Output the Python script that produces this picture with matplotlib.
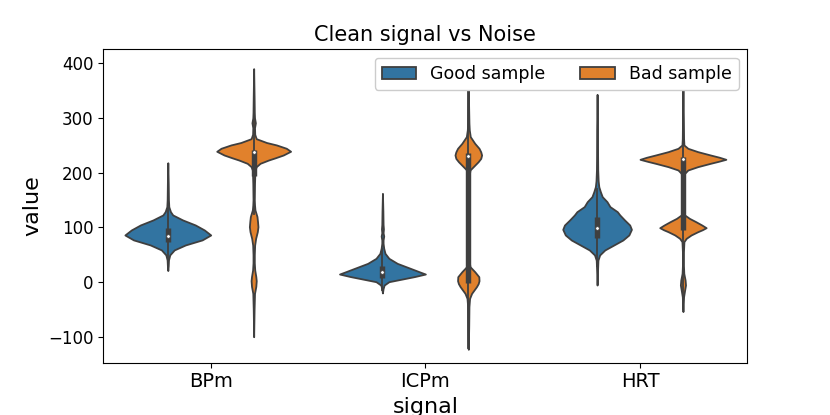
import matplotlib
matplotlib.use("Agg")
import matplotlib.pyplot as plt
from matplotlib.patches import Patch
import numpy as np

categories = ["BPm", "ICPm", "HRT"]
hues = ["Good sample", "Bad sample"]
colors = ["#3274a1", "#e1812c"]
gray = "#3f3f3f"

# Violin profiles: value levels and relative density (1 = widest)
bpm_good_y = [218, 180, 150, 137.7, 128.6, 122.6, 113.5, 104.3, 95.2, 86, 77, 67.8, 58.7, 49.6, 40.4, 30, 20.9]
bpm_good_d = [0, 0.01, 0.015, 0.023, 0.062, 0.115, 0.345, 0.64, 0.85, 1.0, 0.8, 0.41, 0.15, 0.046, 0.016, 0.01, 0]

bpm_bad_y = [390, 340, 310, 300, 291, 282, 270, 262, 255, 250.6, 244.5, 239, 232.2, 227, 223, 217, 210.9,
             204.8, 180, 150, 141, 131.9, 119.7, 110.5, 101.1, 92, 79.8, 67.6, 50, 35, 21.9, 10, 2.4, -8,
             -20.7, -50, -100]
bpm_bad_d = [0, 0.01, 0.015, 0.02, 0.04, 0.02, 0.025, 0.06, 0.3, 0.53, 0.76, 0.86, 0.69, 0.5, 0.345, 0.15, 0.06,
             0.03, 0.02, 0.015, 0.02, 0.03, 0.077, 0.09, 0.1, 0.085, 0.046, 0.023, 0.015, 0.015, 0.025, 0.05, 0.06, 0.05,
             0.02, 0.01, 0]

icp_good_y = [162, 130, 105, 97.1, 90, 84, 77, 70.7, 61.6, 52.4, 43.3, 34.1, 25, 19, 14.6, 10, 6.7, 0.6,
              -5.5, -12, -20]
icp_good_d = [0, 0.01, 0.015, 0.023, 0.015, 0.03, 0.015, 0.015, 0.03, 0.06, 0.15, 0.345, 0.65, 0.85, 1.0, 0.75,
              0.54, 0.15, 0.04, 0.015, 0]

icp_bad_y = [352, 310, 290, 277.9, 265.7, 253.5, 244.4, 238, 232.2, 226, 220, 210.8, 204.8, 195, 150, 100,
             50, 35, 28, 18.9, 9.7, 2.4, -3, -8.5, -20.7, -29.9, -45, -80, -123]
icp_bad_d = [0, 0.01, 0.015, 0.023, 0.046, 0.15, 0.25, 0.29, 0.31, 0.29, 0.23, 0.115, 0.04, 0.02, 0.01, 0.01,
             0.015, 0.025, 0.04, 0.15, 0.245, 0.25, 0.23, 0.19, 0.077, 0.03, 0.015, 0.01, 0]

hrt_good_y = [343, 280, 230, 204.8, 185, 174.3, 165.2, 156, 146.9, 137.8, 128.6, 122.5, 113.4, 104.2, 96.3,
              86, 76.8, 67.7, 58.6, 49.5, 40, 20, -5.5]
hrt_good_d = [0, 0.01, 0.012, 0.015, 0.025, 0.04, 0.076, 0.12, 0.23, 0.3, 0.47, 0.53, 0.64, 0.76, 0.8,
              0.74, 0.6, 0.39, 0.18, 0.06, 0.02, 0.01, 0]

hrt_bad_y = [352, 300, 262, 250.5, 244.4, 238.3, 232.2, 228, 224.3, 220.5, 217, 210.9, 204.8, 198.7, 185,
             150, 130, 122.5, 116.4, 110.3, 104.2, 99.3, 95.5, 92, 86, 79.9, 73.8, 55, 30, 15.8, 3.7, -5.5,
             -14.6, -26.8, -54]
hrt_bad_d = [0, 0.01, 0.015, 0.023, 0.115, 0.345, 0.64, 0.85, 1.0, 0.82, 0.64, 0.345, 0.115, 0.04, 0.02,
             0.015, 0.02, 0.04, 0.15, 0.3, 0.44, 0.54, 0.45, 0.345, 0.19, 0.077, 0.023, 0.012, 0.012, 0.02, 0.05, 0.06,
             0.04, 0.015, 0]

# Box stats: [whisker low, q1, median, q3, whisker high]
bpm_good_box = [40, 72.5, 85, 98, 135]
bpm_bad_box = [125, 194.4, 237, 241.3, 300]
icp_good_box = [-15, 6.7, 17.6, 29.2, 60]
icp_bad_box = [-120, -2.4, 231, 235.3, 350]
hrt_good_box = [30, 81, 99, 118.2, 170]
hrt_bad_box = [-50, 95, 224, 228, 350]

profiles = [
    [(bpm_good_y, bpm_good_d, bpm_good_box), (bpm_bad_y, bpm_bad_d, bpm_bad_box)],
    [(icp_good_y, icp_good_d, icp_good_box), (icp_bad_y, icp_bad_d, icp_bad_box)],
    [(hrt_good_y, hrt_good_d, hrt_good_box), (hrt_bad_y, hrt_bad_d, hrt_bad_box)],
]

fig = plt.figure(figsize=(8.3, 4.15), dpi=100)
ax = fig.add_axes([0.1246, 0.126, 0.7758, 0.7552])

lw = 1.3
half_max = 0.2
for i, cat in enumerate(profiles):
    for j, (ys, ds, box) in enumerate(cat):
        c = i + (j - 0.5) * 0.4
        ys = np.asarray(ys, float)
        ds = np.asarray(ds, float) * half_max
        ax.fill_betweenx(ys, c - ds, c + ds, facecolor=colors[j], edgecolor=gray,
                         linewidth=lw, zorder=1)
        wlo, q1, med, q3, whi = box
        ax.plot([c, c], [wlo, whi], color=gray, linewidth=lw, zorder=2)
        ax.plot([c, c], [q1, q3], color=gray, linewidth=lw * 3, solid_capstyle="butt", zorder=2)
        ax.scatter([c], [med], s=(lw * 2) ** 2, color="white", edgecolor=gray, linewidth=0.5, zorder=3)

ax.set_xlim(-0.5, 2.5)
ax.set_ylim(-147.5, 425.4)
ax.set_xticks(range(len(categories)))
ax.set_xticklabels(categories, fontsize=14)
ax.set_yticks([-100, 0, 100, 200, 300, 400])
ax.tick_params(axis="y", labelsize=12)
ax.set_xlabel("signal", fontsize=16)
ax.set_ylabel("value", fontsize=16)
ax.set_title("Clean signal vs Noise", fontsize=15)

handles = [Patch(facecolor=colors[k], edgecolor=gray, linewidth=lw, label=hues[k]) for k in range(2)]
leg = ax.legend(handles=handles, loc="upper right", ncol=2, fontsize=12.5, framealpha=1)
leg.set_zorder(5)

fig.savefig("out.png", dpi=100)
